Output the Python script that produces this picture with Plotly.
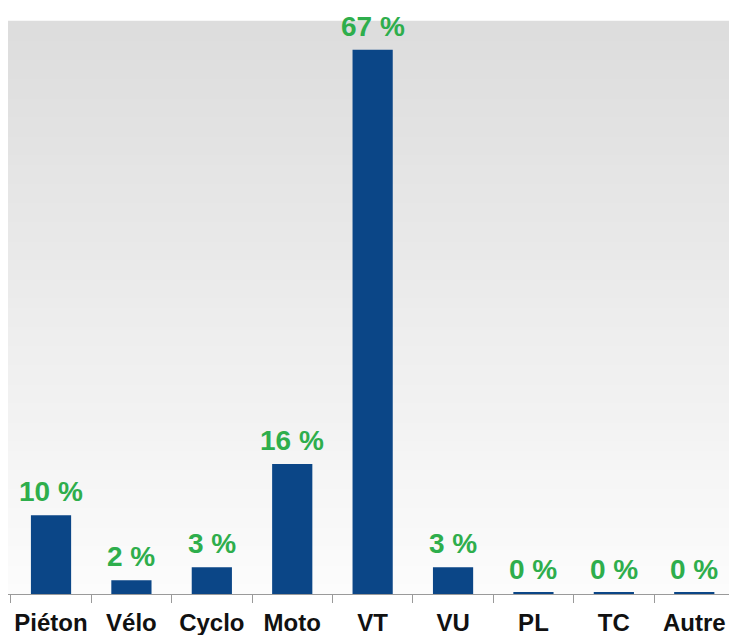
import plotly.graph_objects as go

categories = ["Piéton", "Vélo", "Cyclo", "Moto", "VT", "VU", "PL", "TC", "Autre"]
values = [9.7, 1.7, 3.3, 16, 67, 3.3, 0.15, 0.15, 0.15]
labels = ["10 %", "2 %", "3 %", "16 %", "67 %", "3 %", "0 %", "0 %", "0 %"]

W, H = 729, 635
fig = go.Figure()
fig.add_trace(go.Bar(
    x=categories, y=values, width=0.5,
    marker=dict(color="#0b4687", line=dict(width=0)),
    hoverinfo="skip",
))

for c, v, t in zip(categories, values, labels):
    fig.add_annotation(x=c, y=v, text=f"<b>{t}</b>", showarrow=False, yanchor="bottom", yshift=6,
                       font=dict(family="Liberation Sans, Arial", size=28, color="#2eae4c"))

# background gradient (light grey at top to white at bottom)
n = 60
for i in range(n):
    f = i / n
    g = int(round(252 - (252 - 220) * f))
    col = f"rgb({g},{g},{g})"
    fig.add_shape(type="rect", xref="paper", yref="paper", x0=0, x1=1,
                  y0=i / n, y1=(i + 1) / n + 0.002, fillcolor=col, line=dict(width=0), layer="below")

fig.update_layout(
    width=W, height=H,
    margin=dict(l=8, r=0, t=22, b=41),
    paper_bgcolor="white", plot_bgcolor="white",
    showlegend=False,
    font=dict(family="Liberation Sans, Arial"),
)
fig.update_xaxes(
    range=[-0.535, 8.432], showgrid=False, zeroline=False, automargin=False,
    showline=True, linecolor="#9a9a9a", linewidth=1, tickangle=0,
    ticks="outside", tickson="boundaries", ticklen=8, tickcolor="#9a9a9a",
    ticklabelstandoff=7,
    tickfont=dict(family="Liberation Sans, Arial", size=24, color="#111111"),
    tickprefix="<b>", ticksuffix="</b>",
)
fig.update_yaxes(range=[0, 70.4], visible=False, showgrid=False, zeroline=False)

fig.write_html("out.html", config={"displayModeBar": False},
               post_script="document.body.style.margin='0';document.body.style.overflow='hidden';")
